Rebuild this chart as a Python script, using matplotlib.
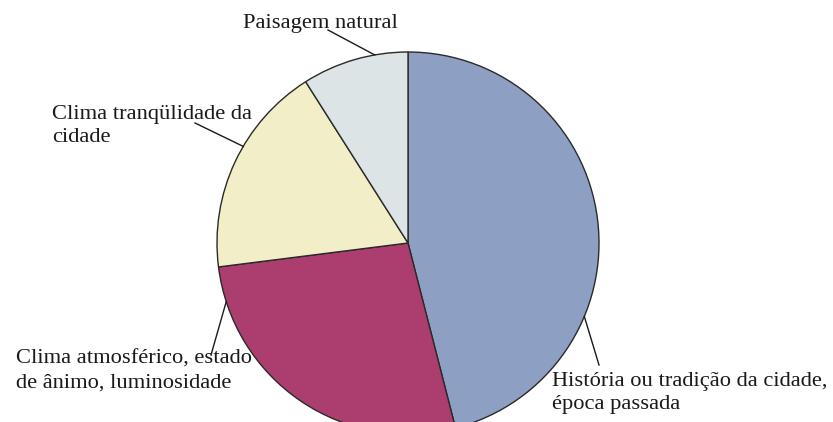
import numpy as np
import matplotlib.pyplot as plt

plt.rcParams['font.family'] = ['Liberation Serif', 'DejaVu Serif']

# share of each reason (clockwise from 12 o'clock)
labels = ['História ou tradição da cidade,\népoca passada',
          'Clima atmosférico, estado\nde ânimo, luminosidade',
          'Clima tranqülidade da\ncidade',
          'Paisagem natural']
values = [46, 27, 18, 9]
colors = ['#8e9fc4', '#ab3d6f', '#f2efc8', '#dce4e6']

# where the leader line touches the rim, as a fraction across the slice
anchor_frac = [0.68, 0.89, 0.58, 0.69]
# label anchors (pixels from the top-left) and leader-line outer ends
label_pos = [(552, 372), (16, 350), (52, 105), (243, 14)]
line_end = [(599, 365), (211, 355), (195, 123), (328, 30)]

W, H = 833, 422
fig = plt.figure(figsize=(W / 100, H / 100), dpi=100)
ax = fig.add_axes([0, 0, 1, 1])

cx, cy, r = 408, H - 243, 191
wedges, _ = ax.pie(values, colors=colors, startangle=90, counterclock=False,
                   center=(cx, cy), radius=r, frame=True,
                   wedgeprops=dict(edgecolor='#2a2a2a', linewidth=1.0))
ax.set_xlim(0, W)
ax.set_ylim(0, H)
ax.axis('off')

total = float(sum(values))
start = 90.0
for v, f, lab, (tx, ty), (ex, ey) in zip(values, anchor_frac, labels,
                                         label_pos, line_end):
    span = 360.0 * v / total
    ang = np.deg2rad(start - span * f)
    start -= span
    px, py = cx + r * np.cos(ang), cy + r * np.sin(ang)
    ax.plot([px, ex], [py, H - ey], color='#1a1a1a', lw=1.0)
    ax.text(tx, H - ty, lab, fontsize=16.2, color='#1a1a1a',
            ha='left', va='top', linespacing=1.32)

fig.savefig('out.png', dpi=100)
